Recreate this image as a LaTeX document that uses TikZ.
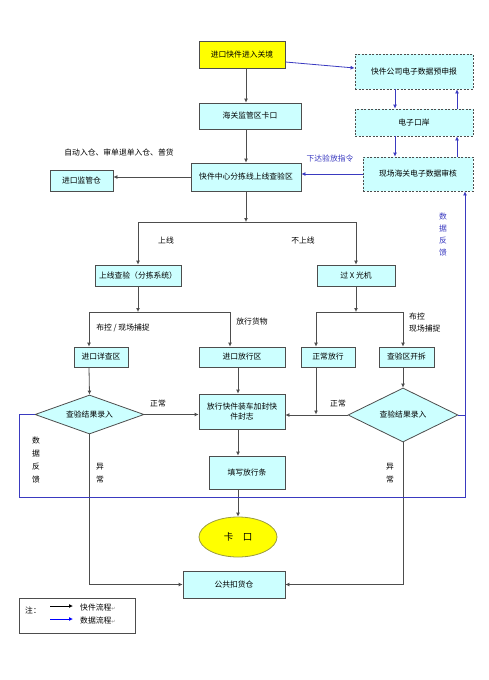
\documentclass[tikz,border=0pt]{standalone}
\usepackage{fontspec}
\setmainfont{Noto Sans CJK SC}
\newfontfamily\symfont{DejaVu Sans}
\usepackage{tikz}
\usetikzlibrary{arrows.meta,positioning,shapes.geometric}
\definecolor{edge}{HTML}{4D4D4D}
\definecolor{flowblue}{HTML}{3A3AC0}
\definecolor{lightcyan}{HTML}{CCFFFF}
\definecolor{signal}{HTML}{FFFF00}
\definecolor{olive}{HTML}{9A9A40}
\tikzset{
  box/.style={
    draw=edge,fill=lightcyan,line width=.8pt,
    inner sep=1pt,align=center,font=\fontsize{7.8}{10}\selectfont
  },
  databox/.style={box,dash pattern=on 2pt off 1.5pt},
  startbox/.style={box,fill=signal},
  checkbox/.style={
    diamond,aspect=2.8,draw=edge,fill=lightcyan,line width=.8pt,
    inner sep=0pt,align=center,font=\fontsize{7.8}{10}\selectfont
  },
  gatebox/.style={
    ellipse,draw=olive,fill=signal,line width=.8pt,
    inner sep=0pt,font=\fontsize{9.5}{11}\selectfont
  },
  note/.style={inner sep=0pt,align=center,font=\fontsize{7.8}{10}\selectfont},
  vnote/.style={inner sep=0pt,align=center,font=\fontsize{7.8}{12.5}\selectfont},
  arrow/.style={-{Latex[length=4pt,width=4pt]},draw=edge,line width=.8pt},
  feedback/.style={-{Latex[length=4pt,width=4pt]},draw=flowblue,line width=.8pt},
  fbline/.style={draw=flowblue,line width=.8pt}
}

\begin{document}
\begin{tikzpicture}[x=1pt,y=-1pt]
\useasboundingbox (0,0) rectangle (489,680);

% main flow
\node[startbox,minimum width=86pt,minimum height=27pt] (entry) at (242,54.5) {进口快件进入关境};
\node[box,minimum width=102pt,minimum height=26pt] (gate) at (250,116) {海关监管区卡口};
\node[box,minimum width=110pt,minimum height=28pt] (sort) at (246,177) {快件中心分拣线上线查验区};
\node[box,minimum width=63pt,minimum height=21pt] (bond) at (81.5,180.5) {进口监管仓};

% data side
\node[databox,minimum width=118pt,minimum height=35pt] (prefile) at (414,71.5) {快件公司电子数据预申报};
\node[databox,minimum width=118pt,minimum height=27pt] (eport) at (414,122.5) {电子口岸};
\node[databox,minimum width=110pt,minimum height=34pt] (audit) at (418,174) {现场海关电子数据审核};

\node[box,minimum width=86pt,minimum height=21pt] (online) at (138,275.5) {上线查验（分拣系统）};
\node[box,minimum width=78pt,minimum height=21pt] (xray) at (356,275.5) {过 X 光机};

\node[box,minimum width=54pt,minimum height=20pt] (detail) at (101,357) {进口详查区};
\node[box,minimum width=86pt,minimum height=20pt] (release) at (242,357) {进口放行区};
\node[box,minimum width=54pt,minimum height=20pt] (pass) at (328,357) {正常放行};
\node[box,minimum width=55pt,minimum height=20pt] (unpack) at (406.5,357) {查验区开拆};

\node[checkbox,minimum width=109pt,minimum height=39pt] (resl) at (89.5,414.5) {查验结果录入};
\node[checkbox,minimum width=110pt,minimum height=54pt] (resr) at (403,415) {查验结果录入};
\node[box,minimum width=86pt,minimum height=35pt] (load) at (242,411.5) {放行快件装车加封快\\件封志};
\node[box,minimum width=76pt,minimum height=33pt] (slip) at (247,472.5) {填写放行条};
\node[gatebox,minimum width=78pt,minimum height=40pt] (checkpt) at (238,537) {卡\quad 口};
\node[box,minimum width=102pt,minimum height=27pt] (hold) at (234,584.5) {公共扣货仓};

\coordinate (split) at (246,222);
\coordinate (splitl) at (138,312);
\coordinate (splitr) at (356,312);
\coordinate (merge) at (316,414.5);
\coordinate (fbl) at (19,497);
\coordinate (fbr) at (465,497);

% goods flow
\draw[arrow] (entry.south -| sort) -- (gate.north -| sort);
\draw[arrow] (gate.south -| sort) -- (sort.north);
\draw[arrow] (sort.west) -- (sort.west -| bond.east);
\draw[arrow] (sort.south) -- (split);
\draw[arrow] (split) -| (online.north);
\draw[arrow] (split) -| (xray.north);
\draw[arrow] (online.south) -- (splitl);
\draw[arrow] (splitl) -| ([xshift=-12pt]detail.north);
\draw[arrow] (splitl) -| ([xshift=-12pt]release.north);
\draw[arrow] (xray.south) -- (splitr);
\draw[arrow] (splitr) -| ([xshift=-12pt]pass.north);
\draw[arrow] (splitr) -| ([xshift=-3.5pt]unpack.north);
\draw[arrow] ([xshift=-12pt]detail.south) -- (resl.north);
\draw[arrow] (release.south -| checkpt) -- (load.north -| checkpt);
\draw[arrow] ([xshift=-3.5pt]unpack.south) -- (resr.north);
\draw[arrow] ([xshift=-12pt]pass.south) -- (merge);
\draw[arrow] (resl.east) -- (resl.east -| load.west);
\draw[arrow] (resr.west) -- (resr.west -| load.east);
\draw[arrow] (load.south -| checkpt) -- (slip.north -| checkpt);
\draw[arrow] (slip.south -| checkpt) -- (checkpt.north);
\draw[arrow] (resl.south) |- (hold.west);
\draw[arrow] (resr.south) |- (hold.east);

% data flow
\draw[feedback] ([yshift=-7.5pt]entry.east) -- ([yshift=3.5pt]prefile.west);
\draw[feedback] ([xshift=-19pt]prefile.south) -- ([xshift=-19pt]eport.north);
\draw[feedback] ([xshift=-19pt]eport.south) -- ([xshift=-23pt]audit.north);
\draw[feedback] ([xshift=39pt]audit.north) -- ([xshift=43pt]eport.south);
\draw[feedback] ([xshift=43pt]eport.north) -- ([xshift=43pt]prefile.south);
\draw[feedback] (audit.west) -- (audit.west -| sort.east);
\draw[feedback] (resl.west) -- (resl.west -| fbl) -- (fbl) -- (fbr) -- (fbr |- audit.south);
\draw[fbline] (resr.east) -- (resr.east -| fbr);

% labels
\node[note] at (119,153) {自动入仓、审单退单入仓、普货};
\node[note,text=flowblue] at (330,159) {下达验放指令};
\node[note] at (166,241) {上线};
\node[note] at (303,241) {不上线};
\node[note] at (123,328) {布控 / 现场捕捉};
\node[note] at (252,322) {放行货物};
\node[note,anchor=west,align=left,font=\fontsize{7.8}{12}\selectfont] at (409,323) {布控\\现场捕捉};
\node[note] at (158,404) {正常};
\node[note] at (338,404) {正常};
\node[vnote] at (100,473) {异\\常};
\node[vnote] at (390,473) {异\\常};
\node[vnote,text=flowblue,font=\fontsize{7.8}{12}\selectfont] at (443,235) {数\\据\\反\\馈};
\node[vnote,font=\fontsize{7.8}{13}\selectfont] at (36,460) {数\\据\\反\\馈};

% legend
\node[draw=edge,line width=.8pt,minimum width=116pt,minimum height=35pt] (legend) at (77,615.5) {};
\node[note] (zhu) at (33,610) {注：};
\coordinate (goodsa) at (50,606);
\coordinate (dataa) at (50,619);
\draw[arrow,draw=black] (goodsa) -- ++(23,0);
\draw[feedback,draw=blue] (dataa) -- ++(23,0);
\node[note,anchor=west] at (80,608) {快件流程{\color{gray}\symfont\fontsize{5}{5}\selectfont ↵}};
\node[note,anchor=west] at (80,621) {数据流程{\color{gray}\symfont\fontsize{5}{5}\selectfont ↵}};
\end{tikzpicture}
\end{document}
